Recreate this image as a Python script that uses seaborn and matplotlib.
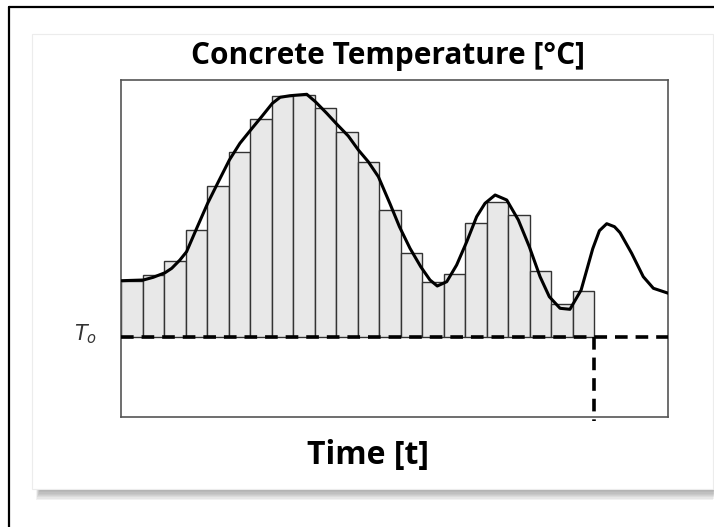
import numpy as np
import pandas as pd
import matplotlib
matplotlib.use("Agg")
import matplotlib.pyplot as plt
from matplotlib.patches import Rectangle
from matplotlib.lines import Line2D
import seaborn as sns

# time steps (bar centres) and bar heights above T_o
time_steps = [0.5, 1.5, 2.5, 3.5, 4.5, 5.5, 6.5, 7.5, 8.5, 9.5, 10.5,
              11.5, 12.5, 13.5, 14.5, 15.5, 16.5, 17.5, 18.5, 19.5, 20.5, 21.5]
bar_temps = [56, 61.4, 76, 107, 151, 184.4, 218, 240.4, 241.7, 228.4, 204.7,
             175, 126.7, 84, 55, 62.7, 113.7, 135, 121.7, 65.7, 33, 45.7]

# measured temperature curve
curve_t = [0.03, 1.04, 1.50, 2.05, 2.36, 2.74, 3.05, 3.52, 4.03, 4.53, 5.04,
           5.53, 6.03, 6.54, 7.04, 7.40, 7.86, 8.64, 9.04, 9.57, 10.03, 10.57,
           11.04, 11.50, 11.97, 12.51, 12.95, 13.44, 13.94, 14.37, 14.71,
           15.15, 15.61, 16.08, 16.54, 16.93, 17.40, 17.94, 18.48, 18.99,
           19.49, 19.92, 20.42, 20.88, 21.40, 21.94, 22.25, 22.59, 22.95,
           23.21, 23.75, 24.29, 24.76, 25.46]
curve_temp = [56, 56.7, 59.4, 64, 68.4, 76.7, 85, 108.4, 133.4, 155, 176.7,
              193.4, 206.7, 220, 233.4, 239.4, 241, 242.4, 235, 223.4, 212.7,
              200.7, 186.7, 175, 160, 133, 110, 88.4, 70, 56.7, 50.7,
              55, 71.7, 95, 120, 133.4, 141.7, 136.7, 116.7, 90,
              60, 40, 28.4, 27.4, 46.7, 88, 106, 113, 110,
              104, 83.4, 60, 48.4, 43.4]

t_end = 22  # end of the discretised period
bars = pd.DataFrame({"t": time_steps, "temp": bar_temps})
curve = pd.DataFrame({"t": curve_t, "temp": curve_temp})

sns.set_style("white")
fig = plt.figure(figsize=(7.14, 5.27), dpi=100)
W, H = 714, 527

def fx(px):
    return px / W

def fy(py):
    return 1 - py / H

# outer frame (top and left edges visible)
fig.add_artist(Line2D([fx(9), 1], [fy(7), fy(7)], color="black", lw=1.6))
fig.add_artist(Line2D([fx(9), fx(9)], [fy(7), 0], color="black", lw=1.6))

# shadow under the white panel
for i in range(8):
    fig.add_artist(Rectangle((fx(36 + i * 0.5), fy(489 + 11 - i * 1.3)),
                             fx(677), (11 - i * 1.3) / H,
                             facecolor="#707070", edgecolor="none", alpha=0.09))
fig.add_artist(Rectangle((fx(32), fy(489)), fx(681), (489 - 34) / H,
                         facecolor="white", edgecolor="#ececec", lw=0.8))

ax = fig.add_axes([fx(121), fy(416.7), fx(668 - 121), (416.7 - 80) / H])
ax.set_zorder(3)

sns.barplot(data=bars, x="t", y="temp", native_scale=True, width=1,
            color="#e8e8e8", saturation=1, edgecolor="#333333", linewidth=1,
            ax=ax, zorder=2)
sns.lineplot(data=curve, x="t", y="temp", color="black", lw=2.2, ax=ax,
             zorder=4)

ax.plot([0, 25.44], [0, 0], color="black", lw=2.6, ls=(0, (3.5, 2.2)),
        zorder=5)
ax.plot([t_end, t_end], [0, -84], color="black", lw=2.6, ls=(0, (3.5, 2.2)),
        zorder=5, clip_on=False)

ax.set_xlim(0, 25.44)
ax.set_ylim(-80, 256.7)
ax.set_xticks([])
ax.set_yticks([])
ax.set_xlabel("")
ax.set_ylabel("")
for s in ax.spines.values():
    s.set_color("#555555")
    s.set_linewidth(1.2)
ax.set_facecolor("white")

fig.text(fx(388), fy(56), "Concrete Temperature [°C]", ha="center",
         va="center", fontsize=21.5, fontweight="bold", family="Open Sans",
         color="black")
fig.text(fx(368), fy(456), "Time [t]", ha="center", va="center",
         fontsize=23, fontweight="bold", family="Open Sans", color="black")
fig.text(fx(86), fy(334), r"$T_o$", ha="center", va="center", fontsize=15,
         color="#333333", math_fontfamily="dejavusans")

fig.savefig("out.png", dpi=100, facecolor="white")
